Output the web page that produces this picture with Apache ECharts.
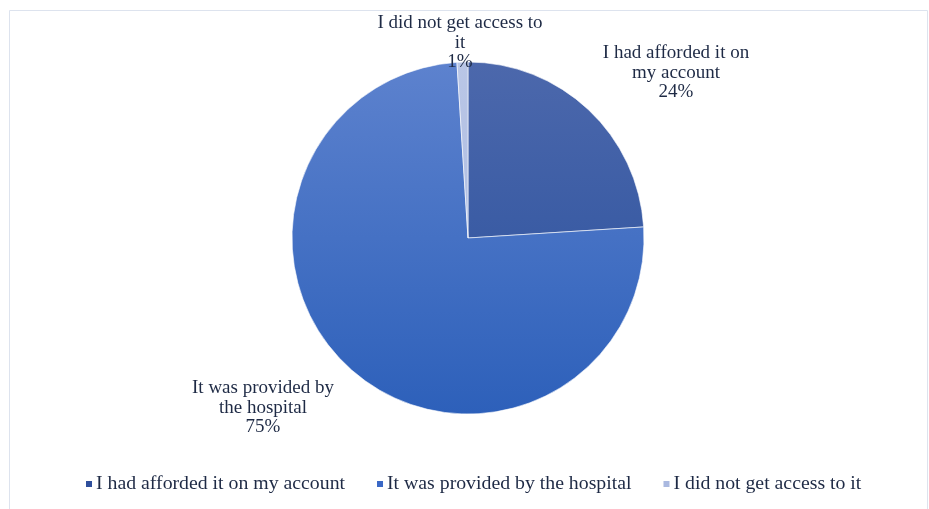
<!DOCTYPE html>
<html>
<head>
<meta charset="utf-8">
<script src="https://cdn.jsdelivr.net/npm/echarts@6/dist/echarts.min.js"></script>
<style>
  html, body { margin: 0; padding: 0; background: #ffffff; }
  #chart { width: 929px; height: 509px; }
</style>
</head>
<body>
<div id="chart"></div>
<script>
// Source of the item, share of respondents (%)
const categories = [
  'I had afforded it on my account',
  'It was provided by the hospital',
  'I did not get access to it'
];
const shares = [24, 75, 1];
// Slice labels as they wrap around the pie
const sliceLabels = [
  'I had afforded it on\nmy account',
  'It was provided by\nthe hospital',
  'I did not get access to\nit'
];

const chart = echarts.init(document.getElementById('chart'), null, { renderer: 'canvas' });

function vGrad(top, bottom) {
  return new echarts.graphic.LinearGradient(0, 62, 0, 414, [
    { offset: 0, color: top },
    { offset: 1, color: bottom }
  ], true);
}

const fills = [
  vGrad('#4c68ac', '#284f9c'),
  vGrad('#5d82ce', '#2d60ba'),
  vGrad('#b9c6e6', '#a8b8e0')
];
const legendColors = ['#2f4f9c', '#3a68c6', '#aab9e0'];

// Where each slice label sits (centre of text block)
const labelSpots = [
  { x: 676, y: 73 },
  { x: 263, y: 408 },
  { x: 460, y: 43 }
];

const textColor = '#1e2a45';
const font = '"Liberation Serif", "Times New Roman", serif';

chart.setOption({
  animation: false,
  backgroundColor: '#ffffff',
  graphic: [{
    type: 'rect',
    shape: { x: 9.5, y: 10.5, width: 918, height: 520 },
    style: { fill: 'none', stroke: '#dde3ee', lineWidth: 1 },
    silent: true
  }],
  legend: {
    bottom: 10,
    left: 79,
    icon: 'rect',
    itemWidth: 8,
    itemHeight: 8,
    itemGap: 30,
    textStyle: { color: textColor, fontFamily: font, fontSize: 19.8, padding: [0, 0, 0, -2] },
    data: categories.map((c, i) => ({ name: c, itemStyle: { color: legendColors[i] } }))
  },
  series: [{
    type: 'pie',
    center: [468, 238],
    radius: 176,
    startAngle: 90,
    clockwise: true,
    avoidLabelOverlap: false,
    itemStyle: { borderColor: '#ffffff', borderWidth: 0.6 },
    label: {
      show: true,
      position: 'outside',
      formatter: p => sliceLabels[p.dataIndex] + '\n' + p.value + '%',
      color: textColor,
      fontFamily: font,
      fontSize: 19,
      lineHeight: 19.5,
      align: 'center'
    },
    labelLine: { show: false },
    labelLayout: p => {
      const s = labelSpots[p.dataIndex];
      return { x: s.x, y: s.y, align: 'center', verticalAlign: 'middle' };
    },
    emphasis: { disabled: true },
    data: categories.map((c, i) => ({
      name: c,
      value: shares[i],
      itemStyle: { color: fills[i] }
    }))
  }]
});
</script>
</body>
</html>
